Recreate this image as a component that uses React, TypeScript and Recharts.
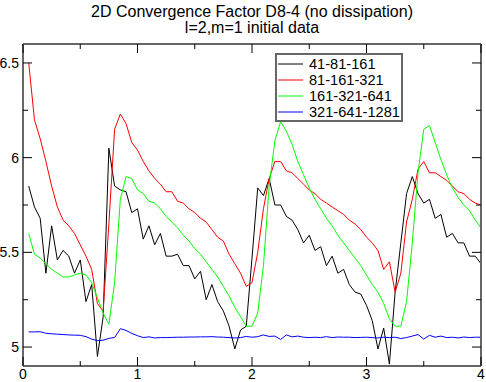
import { LineChart, Line, XAxis, YAxis, Legend } from "recharts";

// time samples (x axis)
const times = [
  0.05, 0.1, 0.15, 0.2, 0.25, 0.3, 0.35, 0.4, 0.45, 0.5,
  0.55, 0.6, 0.65, 0.7, 0.75, 0.8, 0.85, 0.9, 0.95, 1.0,
  1.05, 1.1, 1.15, 1.2, 1.25, 1.3, 1.35, 1.4, 1.45, 1.5,
  1.55, 1.6, 1.65, 1.7, 1.75, 1.8, 1.85, 1.9, 1.95, 2.0,
  2.05, 2.1, 2.15, 2.2, 2.25, 2.3, 2.35, 2.4, 2.45, 2.5,
  2.55, 2.6, 2.65, 2.7, 2.75, 2.8, 2.85, 2.9, 2.95, 3.0,
  3.05, 3.1, 3.15, 3.2, 3.25, 3.3, 3.35, 3.4, 3.45, 3.5,
  3.55, 3.6, 3.65, 3.7, 3.75, 3.8, 3.85, 3.9, 3.95, 4.0,
];

const res41 = [
  5.85, 5.74, 5.68, 5.39, 5.64, 5.46, 5.51, 5.48, 5.39, 5.46,
  5.24, 5.33, 4.95, 5.16, 6.05, 5.85, 5.83, 5.82, 5.71, 5.73,
  5.57, 5.64, 5.54, 5.6, 5.48, 5.48, 5.49, 5.43, 5.43, 5.36,
  5.4, 5.25, 5.33, 5.24, 5.19, 5.11, 4.99, 5.09, 5.11, 5.47,
  5.84, 5.8, 5.89, 5.75, 5.75, 5.69, 5.67, 5.62, 5.55, 5.59,
  5.51, 5.53, 5.43, 5.48, 5.39, 5.41, 5.33, 5.29, 5.28, 5.22,
  5.14, 4.99, 5.1, 4.91, 5.29, 5.55, 5.81, 5.9, 5.81, 5.76,
  5.78, 5.68, 5.7, 5.58, 5.6, 5.55, 5.55, 5.48, 5.48, 5.44,
];

const res81 = [
  6.5, 6.2, 6.1, 5.98, 5.85, 5.74, 5.67, 5.64, 5.6, 5.54,
  5.48, 5.41, 5.23, 5.19, 5.65, 6.15, 6.23, 6.18, 6.08, 6.04,
  5.98, 5.93, 5.89, 5.86, 5.82, 5.82, 5.77, 5.76, 5.73, 5.71,
  5.68, 5.66, 5.62, 5.58, 5.56, 5.49, 5.44, 5.39, 5.32, 5.34,
  5.5, 5.73, 5.89, 5.98, 5.98, 5.93, 5.92, 5.89, 5.86, 5.83,
  5.81, 5.78, 5.76, 5.74, 5.72, 5.7, 5.67, 5.65, 5.62, 5.58,
  5.55, 5.51, 5.41, 5.45, 5.29, 5.39, 5.66, 5.78, 5.94, 5.98,
  5.92, 5.92, 5.9, 5.88, 5.85, 5.82, 5.81, 5.78, 5.76, 5.75,
];

const res161 = [
  5.6, 5.49, 5.47, 5.44, 5.41, 5.39, 5.37, 5.37, 5.38, 5.39,
  5.38, 5.34, 5.26, 5.18, 5.12, 5.34, 5.78, 5.9, 5.89, 5.83,
  5.81, 5.77, 5.76, 5.73, 5.69, 5.66, 5.63, 5.59, 5.56, 5.52,
  5.49, 5.45, 5.41, 5.37, 5.32, 5.27, 5.21, 5.16, 5.11, 5.11,
  5.18, 5.43, 5.85, 6.09, 6.19, 6.14, 6.07, 5.98, 5.91, 5.84,
  5.78, 5.73, 5.68, 5.64, 5.59, 5.55, 5.51, 5.47, 5.43, 5.38,
  5.33, 5.29, 5.23, 5.15, 5.11, 5.11, 5.24, 5.55, 5.92, 6.15,
  6.17, 6.08, 5.99, 5.91, 5.84, 5.79, 5.75, 5.72, 5.67, 5.63,
];

const res321 = [
  5.08, 5.08, 5.081, 5.073, 5.07, 5.068, 5.066, 5.064, 5.063, 5.062,
  5.055, 5.042, 5.034, 5.036, 5.046, 5.05, 5.097, 5.088, 5.072, 5.06,
  5.05, 5.054, 5.048, 5.05, 5.05, 5.051, 5.052, 5.052, 5.053, 5.053,
  5.054, 5.054, 5.055, 5.053, 5.052, 5.05, 5.048, 5.05, 5.056, 5.052,
  5.055, 5.064, 5.056, 5.058, 5.04, 5.064, 5.054, 5.058, 5.052, 5.05,
  5.052, 5.05, 5.055, 5.05, 5.053, 5.052, 5.052, 5.05, 5.051, 5.052,
  5.05, 5.048, 5.052, 5.05, 5.052, 5.045, 5.05, 5.058, 5.066, 5.042,
  5.062, 5.052, 5.058, 5.05, 5.052, 5.048, 5.053, 5.05, 5.052, 5.052,
];

const xTicks = [0, 0.5, 1, 1.5, 2, 2.5, 3, 3.5, 4];
const yTicks = [5, 5.25, 5.5, 5.75, 6, 6.25, 6.5];
const xLabels = [0, 1, 2, 3, 4];
const yLabels = [5, 5.5, 6, 6.5];

const seriesNames = ["41-81-161", "81-161-321", "161-321-641", "321-641-1281"];
const seriesKeys = ["a", "b", "c", "d"];
const seriesColors = ["#000000", "#ff0000", "#00ff00", "#0000ff"];

const data = times.map((t, i) => ({
  t,
  a: res41[i],
  b: res81[i],
  c: res161[i],
  d: res321[i],
}));

const FONT = "'Liberation Sans', Arial, Helvetica, sans-serif";
const FRAME = "#666666";

function BottomTick({ x, y, payload }: any) {
  const major = xLabels.includes(payload.value);
  return (
    <g>
      <line x1={x} y1={y} x2={x} y2={y - (major ? 9 : 5)} stroke="#000" />
      {major && (
        <text x={x} y={y + 13} textAnchor="middle" fontSize={14} fontFamily={FONT} fill="#000">
          {payload.value}
        </text>
      )}
    </g>
  );
}

function TopTick({ x, y, payload }: any) {
  const major = xLabels.includes(payload.value);
  return <line x1={x} y1={y} x2={x} y2={y + (major ? 9 : 5)} stroke="#000" />;
}

function LeftTick({ x, y, payload }: any) {
  const major = yLabels.includes(payload.value);
  return (
    <g>
      <line x1={x} y1={y} x2={x + (major ? 9 : 5)} y2={y} stroke="#000" />
      {major && (
        <text x={x - 4} y={y + 5} textAnchor="end" fontSize={14} fontFamily={FONT} fill="#000">
          {payload.value}
        </text>
      )}
    </g>
  );
}

function RightTick({ x, y, payload }: any) {
  const major = yLabels.includes(payload.value);
  return <line x1={x} y1={y} x2={x - (major ? 9 : 5)} y2={y} stroke="#000" />;
}

function LegendBox() {
  return (
    <div
      style={{
        boxSizing: "border-box",
        width: 128,
        height: 69,
        border: `2px solid ${FRAME}`,
        background: "#fff",
        paddingTop: 1,
        fontFamily: FONT,
        fontSize: 14.6,
        textAlign: "left",
      }}
    >
      {seriesNames.map((name, i) => (
        <div key={name} style={{ display: "flex", alignItems: "center", height: 16 }}>
          <svg width={27} height={16} style={{ display: "block" }}>
            <line x1={1} y1={8} x2={26} y2={8} stroke={seriesColors[i]} strokeWidth={1} />
          </svg>
          <span style={{ marginLeft: 5, lineHeight: "16px", color: "#000" }}>{name}</span>
        </div>
      ))}
    </div>
  );
}

export default function App() {
  return (
    <div style={{ position: "absolute", left: 0, top: 0, width: 486, height: 382, background: "#fff" }}>
      <div
        style={{
          position: "absolute",
          left: 23,
          top: 4,
          width: 458,
          textAlign: "center",
          fontFamily: FONT,
          fontSize: 16,
          lineHeight: "16px",
          color: "#000",
        }}
      >
        <div>2D Convergence Factor D8-4 (no dissipation)</div>
        <div>l=2,m=1 initial data</div>
      </div>
      <LineChart width={486} height={382} data={data} margin={{ top: 43, right: 4, bottom: 15, left: 22 }}>
        <XAxis
          xAxisId="b"
          dataKey="t"
          type="number"
          domain={[0, 4]}
          ticks={xTicks}
          height={1}
          tickSize={0}
          tickMargin={0}
          tickLine={false}
          tick={<BottomTick />}
          axisLine={{ stroke: FRAME, strokeWidth: 2 }}
          interval={0}
        />
        <XAxis
          xAxisId="t"
          orientation="top"
          dataKey="t"
          type="number"
          domain={[0, 4]}
          ticks={xTicks}
          height={1}
          tickSize={0}
          tickMargin={0}
          tickLine={false}
          tick={<TopTick />}
          axisLine={{ stroke: FRAME, strokeWidth: 2 }}
          interval={0}
        />
        <YAxis
          yAxisId="l"
          type="number"
          domain={[4.9, 6.6]}
          ticks={yTicks}
          width={1}
          tickSize={0}
          tickMargin={0}
          tickLine={false}
          tick={<LeftTick />}
          axisLine={{ stroke: FRAME, strokeWidth: 2 }}
          interval={0}
          allowDataOverflow
        />
        <YAxis
          yAxisId="r"
          orientation="right"
          type="number"
          domain={[4.9, 6.6]}
          ticks={yTicks}
          width={1}
          tickSize={0}
          tickMargin={0}
          tickLine={false}
          tick={<RightTick />}
          axisLine={{ stroke: FRAME, strokeWidth: 2 }}
          interval={0}
          allowDataOverflow
        />
        {seriesKeys.map((k, i) => (
          <Line
            key={k}
            xAxisId="b"
            yAxisId="l"
            type="linear"
            dataKey={k}
            name={seriesNames[i]}
            stroke={seriesColors[i]}
            strokeWidth={1}
            dot={false}
            isAnimationActive={false}
          />
        ))}
        <Legend
          layout="horizontal"
          verticalAlign="middle"
          align="center"
          content={<LegendBox />}
          wrapperStyle={{ left: 275, top: 53, width: 128, height: 69 }}
        />
      </LineChart>
    </div>
  );
}
